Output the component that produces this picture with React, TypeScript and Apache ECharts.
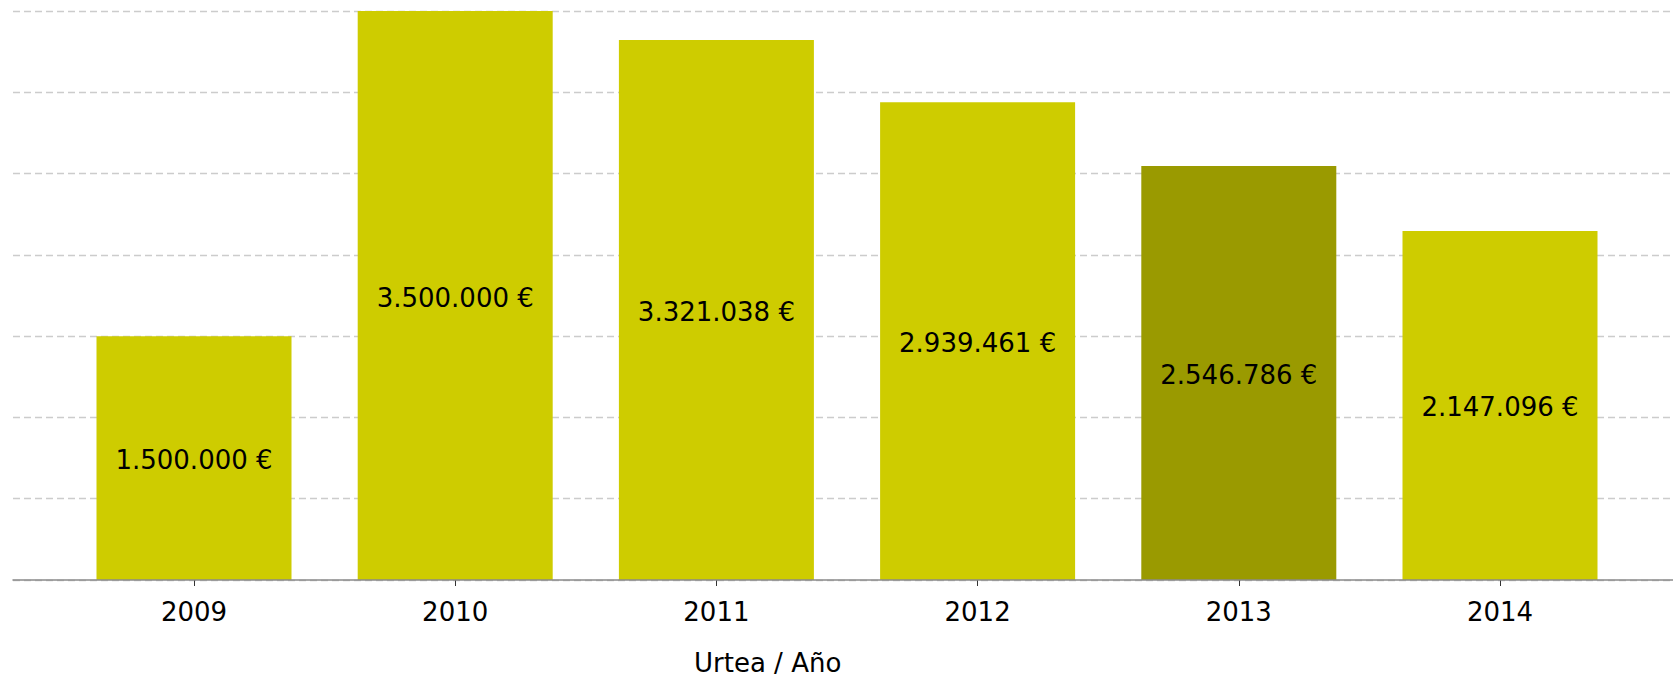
import React, { useEffect, useRef } from "react";
import * as echarts from "echarts";

const years = ["2009", "2010", "2011", "2012", "2013", "2014"];
const amounts = [1500000, 3500000, 3321038, 2939461, 2546786, 2147096];
const highlightYear = "2013";
const baseColor = "#cecc00";
const highlightColor = "#9a9a00";
const axisTitle = "Urtea / Año";

const FONT = "'DejaVu Sans', 'Lucida Grande', sans-serif";

function fmt(v: number): string {
  return String(v).replace(/\B(?=(\d{3})+(?!\d))/g, ".") + " €";
}

export default function App() {
  const ref = useRef<HTMLDivElement>(null);
  useEffect(() => {
    if (!ref.current) return;
    const chart = echarts.init(ref.current, undefined, { renderer: "svg" });
    chart.setOption({
      animation: false,
      backgroundColor: "#ffffff",
      textStyle: { fontFamily: FONT },
      grid: [
        { left: 13, right: 0, top: 11, bottom: 100 },
        { left: 63.4, right: 42.4, top: 11, bottom: 100 },
      ],
      xAxis: [
        {
          type: "category",
          gridIndex: 0,
          data: years,
          z: 5,
          axisLine: { show: true, lineStyle: { color: "#8a8a8a", width: 1.5 } },
          axisTick: { show: false },
          axisLabel: { show: false },
          splitLine: { show: false },
        },
        {
          type: "category",
          gridIndex: 1,
          data: years,
          axisLine: { show: false },
          axisTick: {
            show: true,
            alignWithLabel: true,
            length: 6,
            lineStyle: { color: "#333333", width: 1 },
          },
          axisLabel: {
            color: "#000000",
            fontSize: 26,
            fontFamily: FONT,
            margin: 19,
          },
        },
      ],
      yAxis: [
        {
          type: "value",
          gridIndex: 0,
          min: 0,
          max: 3500000,
          interval: 500000,
          axisLine: { show: false },
          axisTick: { show: false },
          axisLabel: { show: false },
          splitLine: {
            show: true,
            lineStyle: { color: "#cccccc", type: [7, 4], width: 1.3 },
          },
        },
        {
          type: "value",
          gridIndex: 1,
          min: 0,
          max: 3500000,
          interval: 500000,
          axisLine: { show: false },
          axisTick: { show: false },
          axisLabel: { show: false },
          splitLine: { show: false },
        },
      ],
      graphic: [
        {
          type: "text",
          left: 694,
          top: 650,
          style: {
            text: axisTitle,
            fontSize: 26,
            fontFamily: FONT,
            fill: "#000000",
          },
        },
      ],
      series: [
        {
          type: "bar",
          xAxisIndex: 1,
          yAxisIndex: 1,
          barWidth: 195,
          data: amounts.map((v, i) => ({
            value: v,
            itemStyle: { color: years[i] === highlightYear ? highlightColor : baseColor },
          })),
          label: {
            show: true,
            position: "inside",
            color: "#000000",
            fontSize: 26,
            fontFamily: FONT,
            offset: [0, 2],
            formatter: (p: any) => fmt(p.value),
          },
        },
      ],
    });
    return () => chart.dispose();
  }, []);
  return (
    <div
      ref={ref}
      style={{ position: "absolute", left: 0, top: 0, width: 1673, height: 680 }}
    />
  );
}
